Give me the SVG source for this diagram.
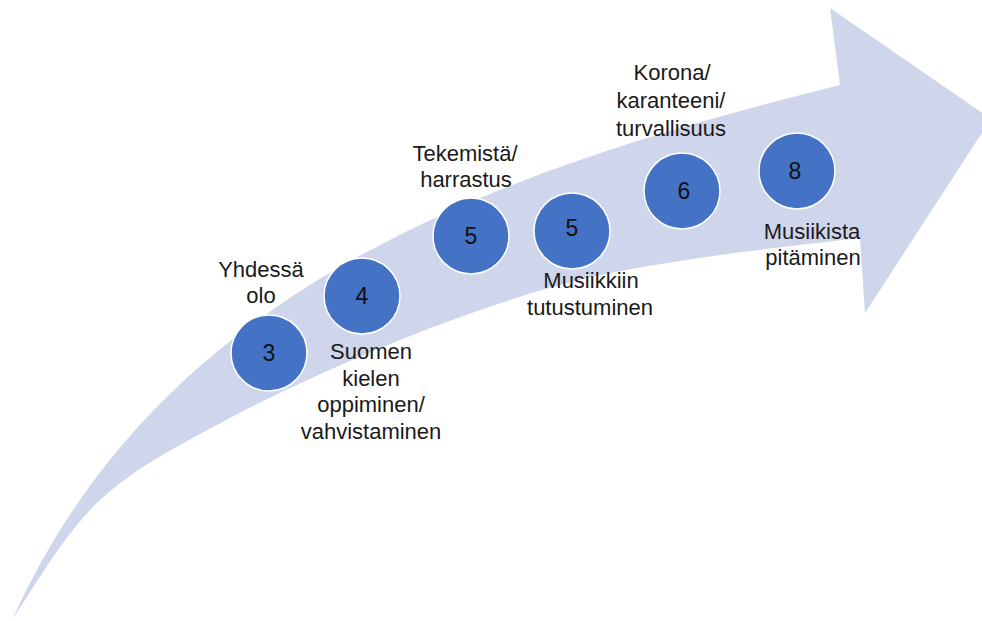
<svg xmlns="http://www.w3.org/2000/svg" width="982" height="621" viewBox="0 0 982 621">
<style>
.lbl{font-family:"Liberation Sans",Arial,sans-serif;font-size:22px;fill:#1a1a1a;text-anchor:middle}
.num{font-family:"Liberation Sans",Arial,sans-serif;font-size:23px;fill:#111;text-anchor:middle}
.dot{fill:#4472C4;stroke:#ffffff;stroke-width:1.5}
</style>
<rect width="982" height="621" fill="#ffffff"/>
<g id="arrow">
<path fill="#CFD5EA" d="M13,618 C163,288 490,172 840,85 L830,8 L991,119 L865,313 L860,238 C833.3,241.3 750,250.2 700,258 C650,265.8 610,271.3 560,285 C510,298.7 455,317.8 400,340 C345,362.2 280,391.3 230,418 C180,444.7 136.2,466.7 100,500 C63.8,533.3 27.5,598.3 13,618 Z"/>
</g>
<g id="connectors"></g>
<g id="node3">
<circle class="dot" cx="269" cy="353" r="38"/>
<text class="num" x="269" y="361">3</text>
<text class="lbl" x="261" y="277">Yhdessä</text>
<text class="lbl" x="261" y="303">olo</text>
</g>
<g id="node4">
<circle class="dot" cx="362" cy="296" r="38"/>
<text class="num" x="362" y="304">4</text>
<text class="lbl" x="371" y="359">Suomen</text>
<text class="lbl" x="371" y="385.5">kielen</text>
<text class="lbl" x="371" y="412">oppiminen/</text>
<text class="lbl" x="371" y="438.5">vahvistaminen</text>
</g>
<g id="node5a">
<circle class="dot" cx="471" cy="236" r="38"/>
<text class="num" x="471" y="244">5</text>
<text class="lbl" x="465" y="161">Tekemistä/</text>
<text class="lbl" x="466" y="187">harrastus</text>
</g>
<g id="node5b">
<circle class="dot" cx="572" cy="231" r="38"/>
<text class="num" x="572" y="236">5</text>
<text class="lbl" x="591" y="288">Musiikkiin</text>
<text class="lbl" x="590" y="315">tutustuminen</text>
</g>
<g id="node6">
<circle class="dot" cx="682" cy="191" r="38"/>
<text class="num" x="684" y="199">6</text>
<text class="lbl" x="672" y="80">Korona/</text>
<text class="lbl" x="671" y="108">karanteeni/</text>
<text class="lbl" x="671" y="136">turvallisuus</text>
</g>
<g id="node8">
<circle class="dot" cx="797" cy="171" r="38"/>
<text class="num" x="795" y="179">8</text>
<text class="lbl" x="812" y="239">Musiikista</text>
<text class="lbl" x="813" y="265">pitäminen</text>
</g>
</svg>
